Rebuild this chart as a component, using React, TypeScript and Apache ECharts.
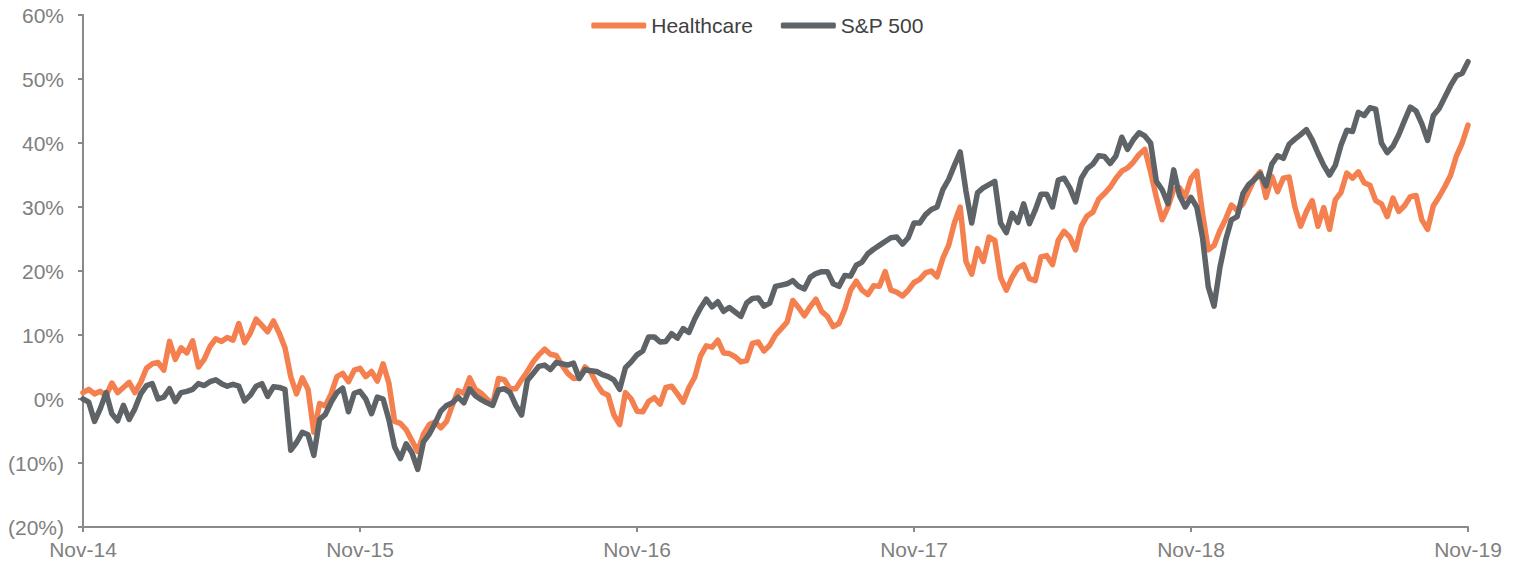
import React, { useEffect, useRef } from "react";
import * as echarts from "echarts";

const MONTH_STEP = 0.25;
const xTickLabels = ["Nov-14", "Nov-15", "Nov-16", "Nov-17", "Nov-18", "Nov-19"];
const seriesNames = ["Healthcare", "S&P 500"];

const healthcare = [
  1.0, 1.5, 0.8, 1.2, 0.5, 2.5, 1.0, 1.8, 2.6, 1.0,
  2.6, 4.8, 5.5, 5.7, 4.5, 9.0, 6.2, 8.0, 7.2, 9.1,
  5.0, 6.2, 8.2, 9.4, 9.0, 9.6, 9.2, 11.8, 8.8, 10.3,
  12.5, 11.5, 10.5, 12.2, 10.3, 8.0, 3.5, 0.8, 3.3, 1.5,
  -5.2, -0.7, -1.1, 0.8, 3.5, 4.0, 2.7, 4.5, 4.8, 3.5,
  4.3, 2.8, 5.5, 2.5, -3.5, -3.8, -4.8, -6.5, -8.2, -5.5,
  -4.0, -3.6, -4.5, -3.5, -1.0, 1.3, 0.9, 3.3, 1.5, 0.9,
  0.0, -0.8, 3.2, 3.0, 1.6, 1.6, 3.0, 4.3, 5.8, 6.9,
  7.8, 7.0, 6.8, 5.3, 4.0, 3.2, 3.3, 5.0, 4.2, 2.4,
  1.0, 0.6, -2.5, -4.0, 1.0, 0.0, -1.9, -2.0, -0.4, 0.2,
  -0.8, 1.8, 2.0, 0.8, -0.5, 1.8, 3.4, 6.7, 8.3, 8.1,
  9.2, 7.2, 7.1, 6.6, 5.8, 6.0, 8.7, 8.9, 7.5, 8.4,
  10.0, 11.0, 12.0, 15.4, 14.3, 13.0, 14.4, 15.6, 13.7, 12.9,
  11.3, 11.8, 14.0, 17.0, 18.4, 17.0, 16.3, 17.7, 17.6, 19.9,
  17.0, 16.7, 16.1, 17.0, 18.2, 18.7, 19.7, 20.0, 19.1, 22.0,
  24.0, 27.5, 30.0, 21.5, 19.5, 23.5, 21.5, 25.3, 24.8, 19.0,
  17.0, 19.0, 20.5, 21.0, 18.8, 18.5, 22.2, 22.4, 21.0, 24.8,
  26.2, 25.3, 23.3, 27.0, 28.6, 29.2, 31.2, 32.1, 33.1, 34.5,
  35.6, 36.1, 37.0, 38.2, 39.0, 35.5, 31.5, 28.0, 30.0, 32.7,
  33.0, 31.6, 34.5, 35.6, 29.0, 23.3, 24.0, 26.3, 28.1, 30.3,
  29.5, 30.5, 32.5, 34.4, 35.5, 31.5, 34.8, 32.4, 34.5, 34.7,
  30.0, 27.0, 29.3, 31.0, 27.0, 29.9, 26.5, 31.1, 32.3, 35.3,
  34.5, 35.5, 33.8, 33.4, 31.0, 30.5, 28.5, 31.4, 29.3, 30.2,
  31.6, 31.8, 28.0, 26.5, 30.2, 31.6, 33.2, 35.0, 38.0, 40.0,
  42.8,
];

const sp500 = [
  0, -0.5, -3.5, -1.5, 1.0, -2.3, -3.4, -1.0, -3.2, -1.5,
  0.8, 2.1, 2.4, 0.0, 0.3, 1.6, -0.4, 1.0, 1.2, 1.5,
  2.4, 2.1, 2.7, 3.0, 2.4, 2.0, 2.3, 2.0, -0.3, 0.6,
  2.0, 2.4, 0.4, 1.9, 1.8, 1.5, -8.0, -6.8, -5.2, -5.6,
  -8.8, -3.2, -2.4, -0.5, 1.0, 1.7, -2.0, 0.9, 1.2, 0.0,
  -2.3, 0.3, 0.0, -3.2, -7.5, -9.3, -7.0, -8.4, -11.0, -6.7,
  -5.5, -3.8, -1.9, -1.0, -0.6, 0.3, -0.6, 1.6, 0.5, -0.1,
  -0.6, -1.0, 1.4, 1.6, 1.0, -1.0, -2.5, 2.9, 4.0, 5.1,
  5.3, 4.6, 5.7, 5.5, 5.3, 5.6, 3.2, 4.6, 4.4, 4.3,
  3.8, 3.5, 3.0, 1.5, 4.9, 5.8, 6.9, 7.5, 9.7, 9.7,
  8.9, 9.0, 10.2, 9.5, 11.0, 10.4, 12.5, 14.2, 15.6, 14.4,
  15.2, 13.7, 14.3, 13.6, 12.9, 15.0, 15.7, 15.8, 14.5, 15.0,
  17.6, 17.8, 18.0, 18.5, 17.6, 17.2, 19.0, 19.6, 19.9, 19.9,
  18.0, 17.6, 19.3, 19.2, 20.9, 21.4, 22.7, 23.4, 24.0, 24.6,
  25.2, 25.3, 24.2, 25.2, 27.5, 27.5, 28.8, 29.6, 30.0, 32.7,
  34.3, 36.5, 38.6, 32.5, 27.5, 32.2, 33.0, 33.5, 34.0, 27.5,
  26.0, 29.0, 27.6, 30.5, 27.4, 29.5, 32.0, 32.0, 30.0, 34.2,
  34.5, 33.0, 30.8, 34.5, 36.0, 36.7, 38.0, 37.9, 36.8, 38.0,
  40.9, 39.0, 40.5, 41.6, 41.1, 40.0, 34.0, 32.7, 30.5, 35.8,
  31.8, 30.0, 31.5, 30.0, 25.2, 17.5, 14.5, 20.5, 24.8, 28.0,
  28.5, 32.1, 33.5, 34.3, 35.2, 33.3, 36.7, 38.0, 37.6, 39.8,
  40.6, 41.3, 42.1, 40.5, 38.4, 36.5, 35.0, 36.5, 39.7, 42.0,
  41.8, 44.8, 44.3, 45.5, 45.3, 40.0, 38.5, 39.5, 41.3, 43.5,
  45.6, 45.0, 43.0, 40.4, 44.3, 45.4, 47.2, 49.0, 50.5, 50.9,
  52.7,
];

const FONT = "'Liberation Sans', Arial, sans-serif";
const AXIS_GREY = "#8a8a8a";
const LABEL_GREY = "#7f7f7f";
const ORANGE = "#F4804F";
const DARK = "#5E6367";

export default function App() {
  const ref = useRef<HTMLDivElement>(null);

  useEffect(() => {
    document.body.style.margin = "0";
    if (!ref.current) return;
    const chart = echarts.init(ref.current, undefined, { renderer: "svg" });
    const toPoints = (arr: number[]) => arr.map((v, i) => [i * MONTH_STEP, v]);
    chart.setOption({
      animation: false,
      textStyle: { fontFamily: FONT },
      legend: {
        top: 10,
        left: "center",
        itemWidth: 55,
        itemHeight: 6,
        itemGap: 28,
        icon: "roundRect",
        textStyle: { fontSize: 21, color: "#404040", fontFamily: FONT },
        data: seriesNames,
      },
      grid: { left: 83, right: 47, top: 15, bottom: 37, containLabel: false },
      xAxis: {
        type: "value",
        min: 0,
        max: 60,
        interval: 12,
        axisLine: { show: true, onZero: false, lineStyle: { color: AXIS_GREY, width: 2 } },
        axisTick: { show: true, length: 5, lineStyle: { color: AXIS_GREY, width: 2 } },
        splitLine: { show: false },
        axisLabel: {
          fontSize: 21,
          color: LABEL_GREY,
          margin: 12,
          fontFamily: FONT,
          formatter: (v: number) => xTickLabels[Math.round(v / 12)] ?? "",
        },
      },
      yAxis: {
        type: "value",
        min: -20,
        max: 60,
        interval: 10,
        axisLine: { show: true, lineStyle: { color: AXIS_GREY, width: 2 } },
        axisTick: { show: true, length: 5, lineStyle: { color: AXIS_GREY, width: 2 } },
        splitLine: { show: false },
        axisLabel: {
          fontSize: 21,
          color: LABEL_GREY,
          margin: 19,
          fontFamily: FONT,
          formatter: (v: number) => (v < 0 ? `(${-v}%)` : `${v}%`),
        },
      },
      series: [
        {
          name: seriesNames[0],
          type: "line",
          data: toPoints(healthcare),
          showSymbol: false,
          symbol: "none",
          lineStyle: { color: ORANGE, width: 5.5, cap: "round", join: "round" },
          itemStyle: { color: ORANGE },
        },
        {
          name: seriesNames[1],
          type: "line",
          data: toPoints(sp500),
          showSymbol: false,
          symbol: "none",
          lineStyle: { color: DARK, width: 5.5, cap: "round", join: "round" },
          itemStyle: { color: DARK },
        },
      ],
    });
    return () => chart.dispose();
  }, []);

  return <div ref={ref} style={{ width: 1515, height: 564 }} />;
}
